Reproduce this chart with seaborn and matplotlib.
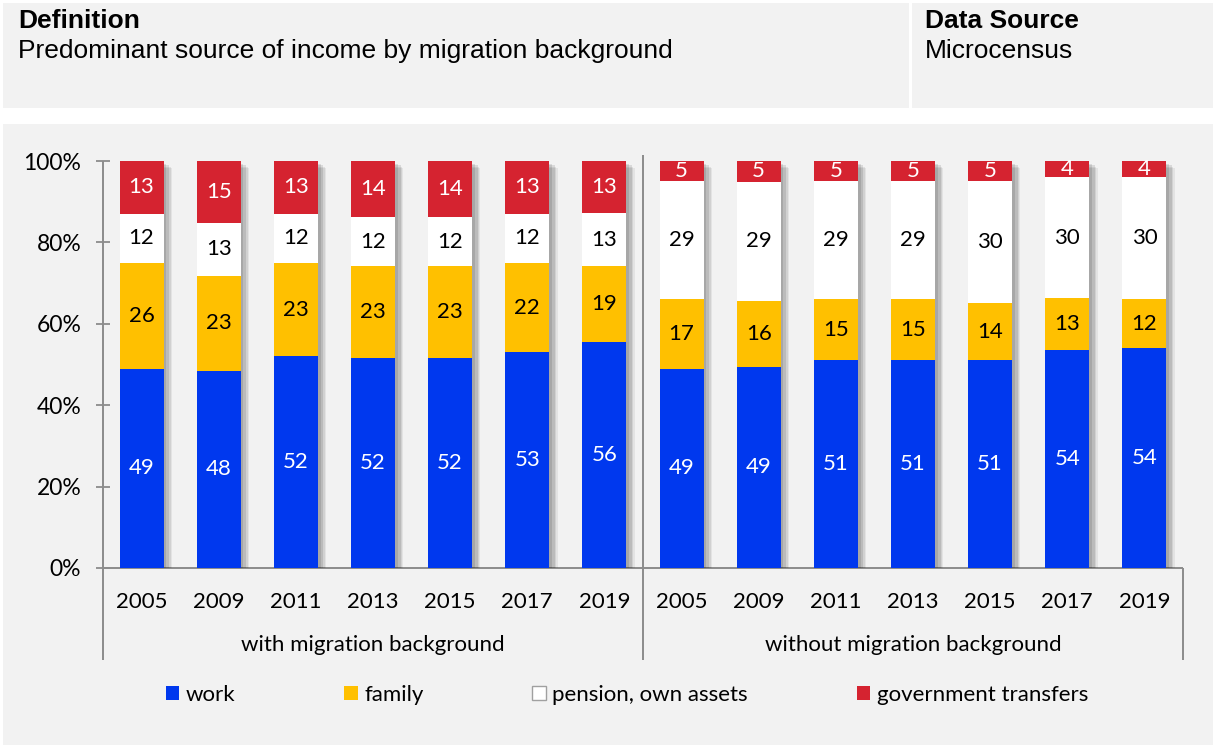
import numpy as np
import pandas as pd
import matplotlib
matplotlib.use("Agg")
import matplotlib.pyplot as plt
import matplotlib.patheffects as pe
from matplotlib.patches import Rectangle, Patch
import seaborn as sns

# ---------------- data ----------------
groups = ["with migration background", "without migration background"]
years = ["2005", "2009", "2011", "2013", "2015", "2017", "2019"]
series_names = ["work", "family", "pension, own assets", "government transfers"]

work_with = [49, 48, 52, 52, 52, 53, 56]
family_with = [26, 23, 23, 23, 23, 22, 19]
pension_with = [12, 13, 12, 12, 12, 12, 13]
gov_with = [13, 15, 13, 14, 14, 13, 13]

work_without = [49, 49, 51, 51, 51, 54, 54]
family_without = [17, 16, 15, 15, 14, 13, 12]
pension_without = [29, 29, 29, 29, 30, 30, 30]
gov_without = [5, 5, 5, 5, 5, 4, 4]

y_ticks = [0, 20, 40, 60, 80, 100]
y_ticklabels = ["0%", "20%", "40%", "60%", "80%", "100%"]

# ---------------- style ----------------
colors = ["#0038EE", "#FFC000", "#FFFFFF", "#D52330"]
label_colors = ["white", "black", "black", "white"]
panel_bg = "#F2F2F2"
axis_gray = "#8C8C8C"
chart_font = ["Lato", "DejaVu Sans"]
head_font = ["Liberation Sans", "DejaVu Sans"]
fs = 16

W, H = 1213, 747
fig = plt.figure(figsize=(W / 100, H / 100), dpi=100)
fig.patch.set_facecolor("white")

def fx(x):
    return x / W

def fy(y):
    return 1 - y / H

# header panel
fig.add_artist(Rectangle((fx(3), fy(108)), fx(1210), 105 / H, transform=fig.transFigure,
                         facecolor=panel_bg, edgecolor="none", zorder=0))
fig.add_artist(Rectangle((fx(909), fy(108)), 3 / W, 105 / H, transform=fig.transFigure,
                         facecolor="white", edgecolor="none", zorder=0.5))
# chart panel
fig.add_artist(Rectangle((fx(3), fy(745)), fx(1210), 621 / H, transform=fig.transFigure,
                         facecolor=panel_bg, edgecolor="none", zorder=0))

fig.text(fx(18), fy(28), "Definition", fontsize=19, fontweight="bold", family=head_font, va="baseline")
fig.text(fx(18), fy(58), "Predominant source of income by migration background", fontsize=19,
         family=head_font, va="baseline")
fig.text(fx(925), fy(28), "Data Source", fontsize=19, fontweight="bold", family=head_font, va="baseline")
fig.text(fx(925), fy(58), "Microcensus", fontsize=19, family=head_font, va="baseline")

# ---------------- table ----------------
rows = []
for g, arrs in zip(groups, [(work_with, family_with, pension_with, gov_with),
                            (work_without, family_without, pension_without, gov_without)]):
    for i, yr in enumerate(years):
        rows.append({"key": f"{g}|{yr}", "group": g, "year": yr,
                     **{s: arrs[k][i] for k, s in enumerate(series_names)}})
df = pd.DataFrame(rows)
keys = list(df["key"])
vals = df[series_names].to_numpy(dtype=float)
shares = vals / vals.sum(axis=1, keepdims=True) * 100
cum = np.cumsum(shares, axis=1)
for k, s in enumerate(series_names):
    df[f"cum_{k}"] = cum[:, k]

# ---------------- axes ----------------
ax = fig.add_axes([fx(103), fy(568), 1080 / W, 407 / H])
ax.set_facecolor("none")

bar_w = 0.57
for k in reversed(range(4)):
    n0 = len(ax.patches)
    sns.barplot(data=df, x="key", y=f"cum_{k}", order=keys, color=colors[k], saturation=1,
                width=bar_w, errorbar=None, ax=ax, linewidth=0, zorder=2)
    if k == 3:
        for p in ax.patches[n0:]:
            p.set_path_effects([
                pe.SimplePatchShadow(offset=(6, -5), shadow_rgbFace="#000000", alpha=0.06),
                pe.SimplePatchShadow(offset=(5, -4), shadow_rgbFace="#000000", alpha=0.08),
                pe.SimplePatchShadow(offset=(4, -3), shadow_rgbFace="#000000", alpha=0.10),
                pe.SimplePatchShadow(offset=(2, -2), shadow_rgbFace="#000000", alpha=0.10),
                pe.Normal()])

# value labels
for i in range(len(keys)):
    bottom = 0
    for k in range(4):
        mid = bottom + shares[i, k] / 2
        ax.text(i, mid, f"{int(vals[i, k])}", ha="center", va="center", fontsize=fs,
                color=label_colors[k], family=chart_font, zorder=5)
        bottom += shares[i, k]

ax.set_xlim(-0.5, len(keys) - 0.5)
ax.set_ylim(0, 100)
for sp in ax.spines.values():
    sp.set_visible(False)
ax.set_xlabel("")
ax.set_ylabel("")

ax.set_yticks(y_ticks)
ax.set_yticklabels(y_ticklabels, family=chart_font, fontsize=fs + 0.5)
ax.tick_params(axis="y", direction="inout", length=9.5, width=1.3, color=axis_gray, pad=11)
ax.set_xticks(range(len(keys)))
ax.set_xticklabels(list(df["year"]), family=chart_font, fontsize=fs)
ax.tick_params(axis="x", length=0, pad=17)

lkw = dict(color=axis_gray, linewidth=1.4, clip_on=False, zorder=1)
low = -22.6
ax.vlines(-0.5, low, 100, **lkw)
ax.vlines(6.5, low, 101.5, **lkw)
ax.vlines(len(keys) - 0.5, low, 0, **lkw)
ax.hlines(0, -0.5, len(keys) - 0.5, **lkw)

for gi, g in enumerate(groups):
    ax.text(gi * 7 + 3, -18.9, g, ha="center", va="center", fontsize=fs, family=chart_font)

# legend
handles = [Patch(facecolor=c, edgecolor=("#A0A0A0" if c == "#FFFFFF" else "none"), linewidth=1)
           for c in colors]
fig.legend(handles, series_names, loc="center", bbox_to_anchor=(fx(627), fy(695)), ncol=4,
           frameon=False, handlelength=0.6, handleheight=0.6, handletextpad=0.3,
           columnspacing=4.9, prop={"family": chart_font, "size": fs})

fig.savefig("out.png", dpi=100)
